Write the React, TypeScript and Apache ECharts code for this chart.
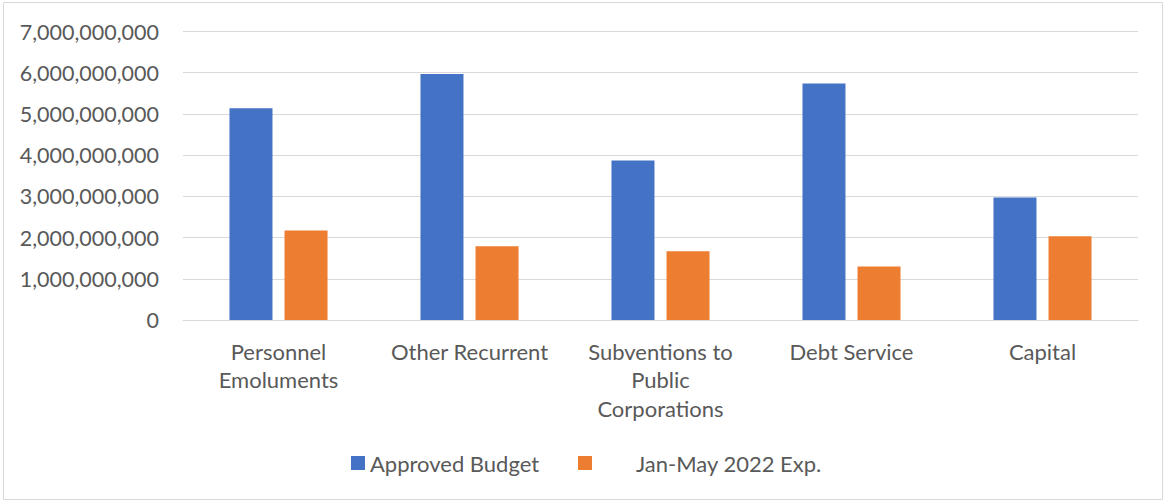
import React, { useEffect, useRef } from "react";
import * as echarts from "echarts";

const categories = [
  "Personnel\nEmoluments",
  "Other Recurrent",
  "Subventions to\nPublic\nCorporations",
  "Debt Service",
  "Capital",
];
const approvedBudget = [5140000000, 5970000000, 3870000000, 5740000000, 2970000000];
const janMayExp = [2170000000, 1790000000, 1670000000, 1300000000, 2030000000];
const seriesNames = ["Approved Budget", "Jan-May 2022 Exp."];

const FONT = "Lato, 'Open Sans', sans-serif";
const TEXT = "#595959";

export default function App() {
  const ref = useRef<HTMLDivElement>(null);
  useEffect(() => {
    document.body.style.margin = "0";
    const chart = echarts.init(ref.current!, null, { renderer: "svg" });
    chart.setOption({
      animation: false,
      backgroundColor: "#ffffff",
      textStyle: { fontFamily: FONT },
      grid: { left: 183, right: 29, top: 31.5, bottom: 180, containLabel: false },
      xAxis: {
        type: "category",
        data: categories,
        axisTick: { show: false },
        axisLine: { lineStyle: { color: "#d9d9d9", width: 1 } },
        axisLabel: {
          color: TEXT,
          fontSize: 22,
          fontFamily: FONT,
          lineHeight: 28.5,
          margin: 17,
          interval: 0,
        },
      },
      yAxis: {
        type: "value",
        min: 0,
        max: 7000000000,
        interval: 1000000000,
        axisLine: { show: false },
        axisTick: { show: false },
        splitLine: { lineStyle: { color: "#d9d9d9", width: 1 } },
        axisLabel: {
          color: TEXT,
          fontSize: 21.5,
          fontFamily: FONT,
          margin: 24,
          formatter: (v: number) => v.toLocaleString("en-US"),
        },
      },
      legend: [
        {
          data: [seriesNames[0]],
          left: 351,
          top: 452,
          padding: 0,
          icon: "rect",
          itemWidth: 14,
          itemHeight: 14,
          textStyle: { color: TEXT, fontSize: 22, fontFamily: FONT, padding: [0, 0, 0, 0] },
        },
        {
          data: [seriesNames[1]],
          left: 578,
          top: 452,
          padding: 0,
          icon: "rect",
          itemWidth: 14,
          itemHeight: 14,
          textStyle: { color: TEXT, fontSize: 22, fontFamily: FONT, padding: [0, 0, 0, 39] },
        },
      ],
      graphic: [
        {
          type: "rect",
          shape: { x: 3.5, y: 2.5, width: 1159, height: 497 },
          style: { fill: "none", stroke: "#d9d9d9", lineWidth: 1 },
          silent: true,
        },
      ],
      series: [
        {
          name: seriesNames[0],
          type: "bar",
          data: approvedBudget,
          barWidth: 43,
          barGap: "28%",
          itemStyle: { color: "#4472C4" },
        },
        {
          name: seriesNames[1],
          type: "bar",
          data: janMayExp,
          barWidth: 43,
          barGap: "28%",
          itemStyle: { color: "#ED7D31" },
        },
      ],
    });
    return () => chart.dispose();
  }, []);
  return <div ref={ref} style={{ width: 1167, height: 500 }} />;
}
